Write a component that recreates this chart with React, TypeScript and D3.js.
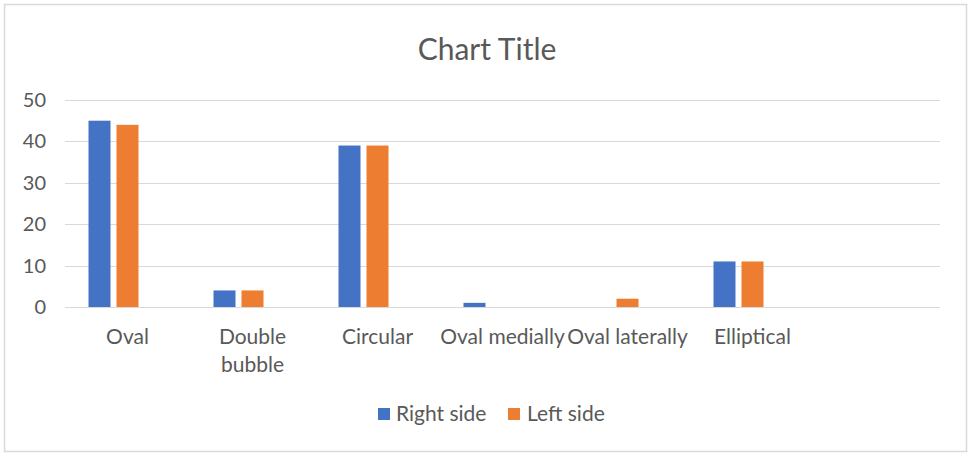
import React from "react";
import * as d3 from "d3";

const categories = ["Oval", "Double bubble", "Circular", "Oval medially", "Oval laterally", "Elliptical", ""];
const seriesNames = ["Right side", "Left side"];
const slotNames = ["Right side", "Left side", "(blank)"];
const rightSide = [45, 4, 39, 1, 0, 11, 0];
const leftSide = [44, 4, 39, 0, 2, 11, 0];
const yTicks = [0, 10, 20, 30, 40, 50];
const colors = ["#4472C4", "#ED7D31"];
const title = "Chart Title";

const W = 973;
const H = 459;
const FONT = "Lato, 'Open Sans', sans-serif";
const TXT = "#595959";

function wrapLabel(label: string): string[] {
  if (label === "Double bubble") return ["Double", "bubble"];
  return [label];
}

export default function App() {
  const x0 = d3.scaleBand<string>().domain(categories.map((c, i) => String(i))).range([65, 940]).padding(0);
  const x1 = d3.scaleBand<string>().domain(slotNames).range([-39, 39]).paddingInner(6 / 28).paddingOuter(0);
  const y = d3.scaleLinear().domain([0, 50]).range([307, 100]);
  const values = [rightSide, leftSide];

  return (
    <svg width={W} height={H} style={{ position: "absolute", left: 0, top: 0, display: "block" }}>
      <rect x={0} y={0} width={W} height={H} fill="#ffffff" />
      <rect x={4.5} y={4.5} width={962} height={447} fill="#ffffff" stroke="#d9d9d9" strokeWidth={1.5} />
      <text x={487} y={60} textAnchor="middle" fontFamily={FONT} fontSize={30} fill={TXT}>
        {title}
      </text>
      {yTicks.map((t) => (
        <g key={t}>
          <line x1={65} x2={940} y1={Math.round(y(t)) + 0.5} y2={Math.round(y(t)) + 0.5} stroke="#d9d9d9" strokeWidth={1} />
          <text x={46} y={y(t)} dy="0.35em" textAnchor="end" fontFamily={FONT} fontSize={20} fill={TXT}>
            {t}
          </text>
        </g>
      ))}
      {categories.map((c, i) => {
        const cx = (x0(String(i)) as number) + x0.bandwidth() / 2;
        return (
          <g key={i}>
            {seriesNames.map((s, si) => {
              const v = values[si][i];
              if (!v) return null;
              return (
                <rect
                  key={s}
                  x={cx + (x1(s) as number)}
                  width={x1.bandwidth()}
                  y={y(v)}
                  height={y(0) - y(v)}
                  fill={colors[si]}
                />
              );
            })}
            {wrapLabel(c).map((line, li) => (
              <text key={li} x={cx} y={344 + li * 28} textAnchor="middle" fontFamily={FONT} fontSize={21} fill={TXT}>
                {line}
              </text>
            ))}
          </g>
        );
      })}
      <g>
        <rect x={378} y={408} width={12} height={12} fill={colors[0]} />
        <text x={396} y={421} fontFamily={FONT} fontSize={21} fill={TXT}>
          {seriesNames[0]}
        </text>
        <rect x={508} y={408} width={12} height={12} fill={colors[1]} />
        <text x={527} y={421} fontFamily={FONT} fontSize={21} fill={TXT}>
          {seriesNames[1]}
        </text>
      </g>
    </svg>
  );
}
